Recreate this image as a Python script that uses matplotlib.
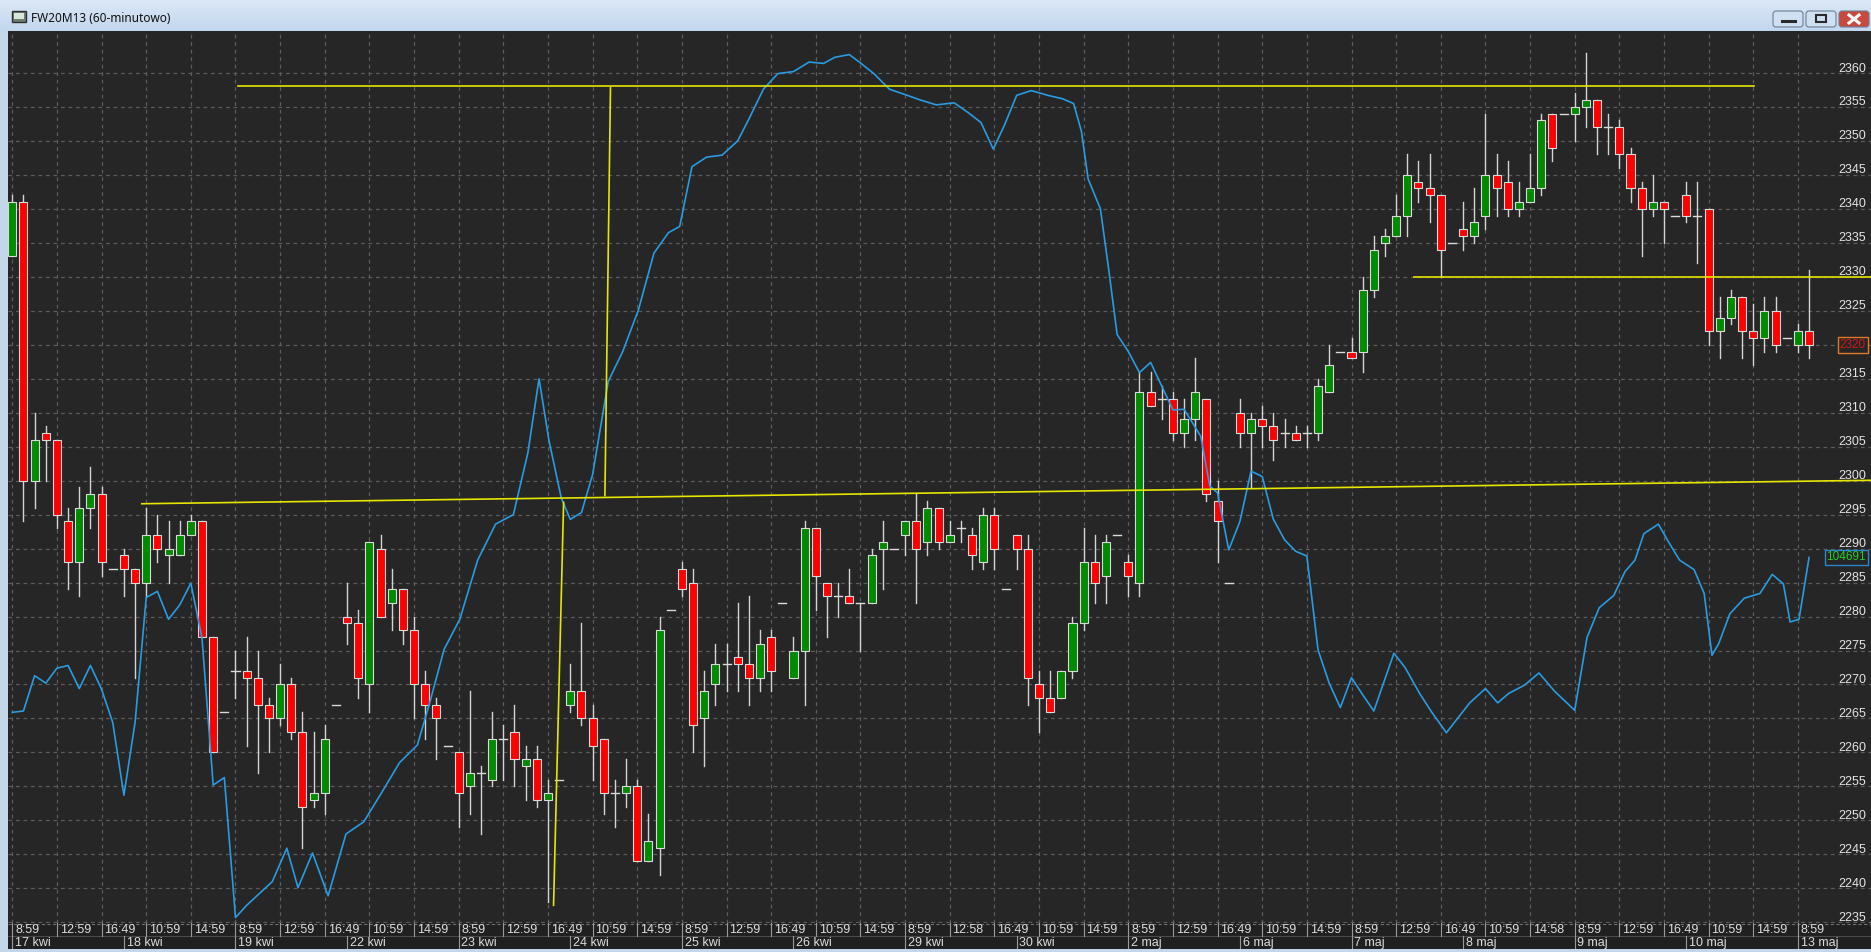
import numpy as np
import matplotlib.pyplot as plt
from matplotlib.patches import Rectangle, FancyBboxPatch

# hourly FW20M13 bars, 17 kwi - 13 maj 2013 (10 bars per session)
opens = [2333, 2341, 2300, 2307, 2306, 2294, 2288, 2296, 2298, 2287,
         2289, 2287, 2285, 2292, 2289, 2289, 2292, 2294, 2277, 2266,
         2272, 2272, 2271, 2267, 2265, 2270, 2263, 2253, 2254, 2267,
         2280, 2279, 2270, 2290, 2282, 2284, 2278, 2270, 2267, 2261,
         2260, 2255, 2257, 2256, 2262, 2263, 2258, 2259, 2253, 2256,
         2267, 2269, 2265, 2262, 2254, 2254, 2255, 2244, 2246, 2281,
         2287, 2285, 2265, 2270, 2273, 2274, 2273, 2271, 2277, 2282,
         2271, 2275, 2293, 2285, 2283, 2283, 2282, 2282, 2290, 2290,
         2292, 2294, 2291, 2296, 2291, 2293, 2292, 2288, 2295, 2284,
         2292, 2290, 2270, 2268, 2268, 2272, 2279, 2288, 2286, 2292,
         2288, 2285, 2313, 2312, 2312, 2307, 2309, 2312, 2297, 2285,
         2310, 2307, 2309, 2308, 2307, 2307, 2307, 2307, 2313, 2319,
         2319, 2319, 2328, 2335, 2336, 2339, 2344, 2343, 2342, 2335,
         2337, 2336, 2339, 2345, 2344, 2340, 2341, 2343, 2354, 2354,
         2354, 2355, 2356, 2352, 2352, 2348, 2343, 2340, 2341, 2339,
         2342, 2339, 2340, 2322, 2324, 2327, 2322, 2321, 2325, 2321,
         2320, 2322]
highs = [2342, 2342, 2310, 2308, 2306, 2296, 2299, 2302, 2299, 2287,
         2290, 2287, 2296, 2295, 2294, 2294, 2295, 2294, 2277, 2266,
         2275, 2277, 2275, 2268, 2273, 2271, 2266, 2263, 2264, 2267,
         2285, 2281, 2291, 2292, 2287, 2284, 2280, 2272, 2268, 2261,
         2260, 2269, 2258, 2266, 2264, 2267, 2261, 2261, 2256, 2256,
         2273, 2279, 2267, 2262, 2256, 2259, 2256, 2251, 2280, 2281,
         2288, 2287, 2272, 2276, 2276, 2282, 2283, 2278, 2278, 2282,
         2277, 2294, 2293, 2285, 2285, 2287, 2282, 2290, 2294, 2290,
         2294, 2298, 2297, 2296, 2294, 2294, 2293, 2296, 2296, 2284,
         2292, 2292, 2272, 2272, 2272, 2280, 2293, 2292, 2292, 2292,
         2289, 2316, 2316, 2314, 2313, 2312, 2318, 2312, 2300, 2285,
         2312, 2310, 2311, 2310, 2309, 2308, 2308, 2315, 2320, 2319,
         2321, 2330, 2336, 2337, 2342, 2348, 2347, 2348, 2342, 2335,
         2341, 2343, 2354, 2348, 2347, 2344, 2348, 2354, 2354, 2354,
         2357, 2363, 2356, 2354, 2353, 2349, 2344, 2345, 2341, 2339,
         2344, 2344, 2340, 2327, 2328, 2327, 2326, 2327, 2327, 2321,
         2323, 2331]
lows = [2333, 2294, 2296, 2300, 2293, 2284, 2283, 2293, 2286, 2287,
        2283, 2271, 2283, 2288, 2285, 2289, 2292, 2277, 2260, 2266,
        2268, 2261, 2257, 2260, 2264, 2262, 2246, 2252, 2251, 2267,
        2276, 2268, 2266, 2280, 2278, 2276, 2265, 2262, 2259, 2261,
        2249, 2251, 2248, 2255, 2256, 2255, 2253, 2252, 2238, 2256,
        2266, 2264, 2256, 2251, 2249, 2252, 2244, 2244, 2242, 2281,
        2283, 2260, 2258, 2267, 2269, 2269, 2267, 2269, 2269, 2282,
        2271, 2267, 2281, 2277, 2280, 2282, 2275, 2282, 2284, 2290,
        2289, 2282, 2289, 2290, 2291, 2291, 2287, 2287, 2287, 2284,
        2287, 2267, 2263, 2266, 2268, 2271, 2278, 2282, 2282, 2292,
        2283, 2283, 2311, 2309, 2306, 2305, 2306, 2297, 2288, 2285,
        2305, 2299, 2305, 2303, 2305, 2306, 2305, 2306, 2313, 2319,
        2318, 2316, 2327, 2333, 2336, 2336, 2341, 2338, 2330, 2335,
        2334, 2335, 2337, 2339, 2339, 2339, 2341, 2342, 2347, 2354,
        2350, 2352, 2348, 2348, 2346, 2341, 2333, 2339, 2335, 2339,
        2338, 2332, 2320, 2318, 2323, 2318, 2317, 2319, 2319, 2321,
        2319, 2318]
closes = [2341, 2300, 2306, 2306, 2295, 2288, 2296, 2298, 2288, 2287,
          2287, 2285, 2292, 2290, 2290, 2292, 2294, 2277, 2260, 2266,
          2272, 2271, 2267, 2265, 2270, 2263, 2252, 2254, 2262, 2267,
          2279, 2271, 2291, 2280, 2284, 2278, 2270, 2267, 2265, 2261,
          2254, 2257, 2257, 2262, 2262, 2259, 2259, 2253, 2254, 2256,
          2269, 2265, 2261, 2254, 2254, 2255, 2244, 2247, 2278, 2281,
          2284, 2264, 2269, 2273, 2273, 2273, 2271, 2276, 2272, 2282,
          2275, 2293, 2286, 2283, 2283, 2282, 2282, 2289, 2291, 2290,
          2294, 2290, 2296, 2291, 2292, 2293, 2289, 2295, 2290, 2284,
          2290, 2271, 2268, 2266, 2272, 2279, 2288, 2285, 2291, 2292,
          2286, 2313, 2311, 2312, 2307, 2309, 2313, 2298, 2294, 2285,
          2307, 2309, 2308, 2306, 2307, 2306, 2307, 2314, 2317, 2319,
          2318, 2328, 2334, 2336, 2339, 2345, 2343, 2342, 2334, 2335,
          2336, 2338, 2345, 2343, 2340, 2341, 2343, 2353, 2349, 2354,
          2355, 2356, 2352, 2352, 2348, 2343, 2340, 2341, 2340, 2339,
          2339, 2339, 2322, 2324, 2327, 2322, 2321, 2325, 2320, 2321,
          2322, 2320]

# second series (open interest) drawn against the price scale
oi_x = [0, 1, 2, 3, 4, 5, 6, 7, 8, 9, 10, 11, 12, 13, 14, 15, 16, 17, 18, 19,
        20, 21, 23.3, 24.6, 25.6, 26.9, 28.3, 29.9, 31.5, 33.1, 34.7, 36.3,
        37.4, 38.7, 40.1, 41.7, 43.3, 44.9, 46.2, 47.2, 48.1, 49.2, 50, 51,
        52, 53.4, 54.7, 56.1, 57.5, 58.8, 59.8, 60.9, 62.2, 63.6, 65, 66,
        67.3, 68.6, 70, 71.4, 72.7, 73.7, 75, 75.9, 77.2, 78.6, 80.2, 81.4,
        82.8, 84.4, 85.7, 86.8, 87.9, 88.9, 90, 91.3, 92.8, 94.1, 95.1, 95.8,
        96.4, 97.5, 98.3, 99, 100, 101, 102, 103, 104, 105, 106.5, 107.3,
        108, 109, 110, 111, 112, 113, 114, 115, 116, 117, 118, 119, 120, 121,
        122, 123.8, 124.8, 126.1, 127.2, 128.5, 129.6, 130.6, 132, 133.1,
        134.1, 135.5, 136.8, 138.2, 140, 141.1, 142.2, 143.5, 144.5, 145.4,
        146.2, 147.5, 148.4, 149.4, 150.7, 151.6, 152.3, 152.9, 153.9, 155.2,
        156.6, 157.7, 158.7, 159.3, 160.1, 161]
oi_y = [2265.9, 2266.1, 2271.3, 2270.2, 2272.4, 2272.8, 2269.4, 2272.8, 2269.3,
        2264.4, 2253.7, 2264.4, 2282.8, 2283.7, 2279.6, 2281.7, 2284.9, 2276.8,
        2255.2, 2256.3, 2235.7, 2237.5, 2241.0, 2245.9, 2240.1, 2245.2, 2238.9,
        2248.0, 2249.8, 2254.1, 2258.5, 2261.1, 2267.3, 2275.2, 2279.6, 2288.3,
        2293.6, 2295.0, 2304.1, 2315.0, 2305.8, 2297.4, 2294.3, 2295.3, 2300.9,
        2314.6, 2319.0, 2325.1, 2333.5, 2336.5, 2337.4, 2346.2, 2347.6, 2347.9,
        2350.0, 2353.2, 2357.6, 2359.9, 2360.2, 2361.6, 2361.4, 2362.3, 2362.7,
        2361.6, 2359.9, 2357.6, 2356.7, 2356.0, 2355.3, 2355.6, 2354.1, 2352.7,
        2348.8, 2352.3, 2356.7, 2357.4, 2356.7, 2356.2, 2355.5, 2351.4, 2344.4,
        2340.0, 2330.4, 2321.5, 2319.0, 2315.9, 2317.4, 2313.9, 2310.4, 2310.5,
        2306.5, 2299.2, 2298.2, 2289.8, 2294.0, 2301.4, 2300.6, 2294.3, 2291.3,
        2289.6, 2288.9, 2275.1, 2270.2, 2266.6, 2271.0, 2268.5, 2266.1, 2274.6,
        2272.5, 2268.7, 2265.9, 2262.9, 2265.2, 2267.3, 2269.4, 2267.3, 2268.7,
        2269.9, 2271.7, 2269.0, 2266.2, 2276.9, 2281.3, 2283.1, 2286.6, 2288.3,
        2292.2, 2293.6, 2291.0, 2288.3, 2286.9, 2283.4, 2274.3, 2276.0, 2280.4,
        2282.7, 2283.4, 2286.2, 2284.8, 2279.2, 2279.6, 2288.7]
oi_last = '104691'
last_price = 2320

# hand-drawn trend lines (bar index, price)
line_x = [[20.2, 156.1], [11.6, 166.6], [53.6, 53.1], [49.4, 48.5], [125.6, 166.6]]
line_y = [[2358.1, 2358.1], [2296.6, 2300.05], [2357.8, 2297.8],
          [2296.8, 2237.5], [2330.0, 2330.0]]

price_ticks = list(range(2235, 2361, 5))
time_labels = ['8:59', '12:59', '16:49', '10:59', '14:59'] * 4 + \
              ['8:59', '12:58', '16:49', '10:59', '14:59'] + \
              ['8:59', '12:59', '16:49', '10:59', '14:59'] + \
              ['8:59', '12:59', '16:49', '10:59', '14:58'] + \
              ['8:59', '12:59', '16:49', '10:59', '14:59'] + ['8:59']
day_labels = ['17 kwi', '18 kwi', '19 kwi', '22 kwi', '23 kwi', '24 kwi', '25 kwi',
              '26 kwi', '29 kwi', '30 kwi', '2 maj', '6 maj', '7 maj', '8 maj',
              '9 maj', '10 maj', '13 maj']

W, H = 1871, 952
BG = '#262626'
FONT = 'Liberation Sans'
fig = plt.figure(figsize=(W / 100, H / 100), dpi=100)
fig.patch.set_facecolor('#c3d6ea')


def px_axes(x0, y0, x1, y1):
    return fig.add_axes([x0 / W, 1 - y1 / H, (x1 - x0) / W, (y1 - y0) / H])


XL = (-0.385, 166.55)

# ---- main chart ----
ax = px_axes(8, 31, W, 923)
ax.set_facecolor(BG)
ax.set_xlim(*XL)
ax.set_ylim(2234.9, 2366.17)
for s in ax.spines.values():
    s.set_visible(False)
ax.set_xticks([])
ax.set_yticks([])

for p in price_ticks:
    ax.axhline(p, color='#5c5c5c', lw=0.9, ls=(0, (3, 3)), zorder=1)
for b in range(0, len(opens), 4):
    ax.axvline(b, color='#5c5c5c', lw=0.9, ls=(0, (3, 3)), zorder=1)

bw = 0.72
for i, (o, h, l, c) in enumerate(zip(opens, highs, lows, closes)):
    if h == l:
        ax.plot([i - bw / 2, i + bw / 2], [o, o], color='#dadada', lw=1, zorder=4)
        continue
    ax.plot([i, i], [l, h], color='#d4d4d4', lw=1, zorder=3)
    if o == c:
        ax.plot([i - bw / 2, i + bw / 2], [o, o], color='#dadada', lw=1, zorder=4)
    else:
        col = '#008a00' if c > o else '#ff0000'
        ax.add_patch(Rectangle((i - bw / 2, min(o, c)), bw, abs(c - o),
                               facecolor=col, edgecolor='#dadada', lw=0.8, zorder=4))

ax.plot(oi_x, oi_y, color='#2a9be0', lw=1.2, zorder=5)
for lx, ly in zip(line_x, line_y):
    ax.plot(lx, ly, color='#e6e600', lw=1.2, zorder=6)

for p in price_ticks:
    if p == last_price:
        continue
    ax.text(166.1, p + 0.65, str(p), color='#e4e4e4', fontsize=9,
            family=FONT, ha='right', va='center', zorder=7)
ax.text(166.1, last_price, str(last_price), color='#d01818', fontsize=8.5,
        family=FONT, ha='right', va='center', zorder=8,
        bbox=dict(boxstyle='square,pad=0.15', fc=BG, ec='#e07828', lw=1))
ax.text(166.1, oi_y[-1], oi_last, color='#20d020', fontsize=8.5,
        family=FONT, ha='right', va='center', zorder=8,
        bbox=dict(boxstyle='square,pad=0.15', fc=BG, ec='#2a86c8', lw=1))

# ---- time axis strip ----
tx = px_axes(8, 923, W, 949)
tx.set_facecolor('#1f1f1f')
tx.set_xlim(*XL)
tx.set_ylim(1, 0)
tx.axis('off')
tx.add_patch(Rectangle((XL[0], 0), XL[1] - XL[0], 1, fc='#202020', ec='none'))
tx.axhline(0.02, color='#707070', lw=0.8, ls=(0, (3, 2)))
tx.axhline(0.5, color='#4a4a4a', lw=0.8)
for k, lab in enumerate(time_labels):
    b = 4 * k
    tx.plot([b, b], [0, 0.5], color='#9a9a9a', lw=0.8)
    tx.text(b + 0.25, 0.27, lab, color='#dcdcdc', fontsize=9, family=FONT,
            ha='left', va='center')
for d, lab in enumerate(day_labels):
    b = 10 * d
    tx.plot([b, b], [0.5, 1], color='#9a9a9a', lw=0.8)
    tx.text(b + 0.25, 0.76, lab, color='#dcdcdc', fontsize=9, family=FONT,
            ha='left', va='center')

# ---- window title bar ----
tb = px_axes(0, 0, W, 31)
tb.set_xlim(0, W)
tb.set_ylim(31, 0)
tb.axis('off')
grad = np.linspace(0, 1, 31)[:, None]
tb.imshow(np.dstack([0.86 - 0.1 * grad, 0.91 - 0.07 * grad, 0.97 - 0.04 * grad]),
          extent=(0, W, 31, 0), aspect='auto')
tb.add_patch(Rectangle((12, 11), 14, 11, fc='#6f7f6f', ec='#303030', lw=1))
tb.add_patch(Rectangle((14, 13), 10, 6, fc='#d8e8d8', ec='none'))
tb.text(31, 18, 'FW20M13 (60-minutowo)', color='#101010', fontsize=8.5,
        family='Noto Sans', ha='left', va='center')
for x0, fc in [(1773, '#cfe0f2'), (1806, '#cfe0f2'), (1839, '#c94a3c')]:
    tb.add_patch(FancyBboxPatch((x0, 11), 30, 16, boxstyle='round,pad=0,rounding_size=3',
                                fc=fc, ec='#6d7f95', lw=0.8))
tb.plot([1782, 1795], [21, 21], color='#2a2a2a', lw=2.2)
tb.add_patch(Rectangle((1816, 15), 10, 7, fc='none', ec='#2a2a2a', lw=1.5))
tb.plot([1849, 1859], [15, 23], color='white', lw=2.2)
tb.plot([1849, 1859], [23, 15], color='white', lw=2.2)

fig.savefig('out.png', dpi=100, facecolor=fig.get_facecolor())
